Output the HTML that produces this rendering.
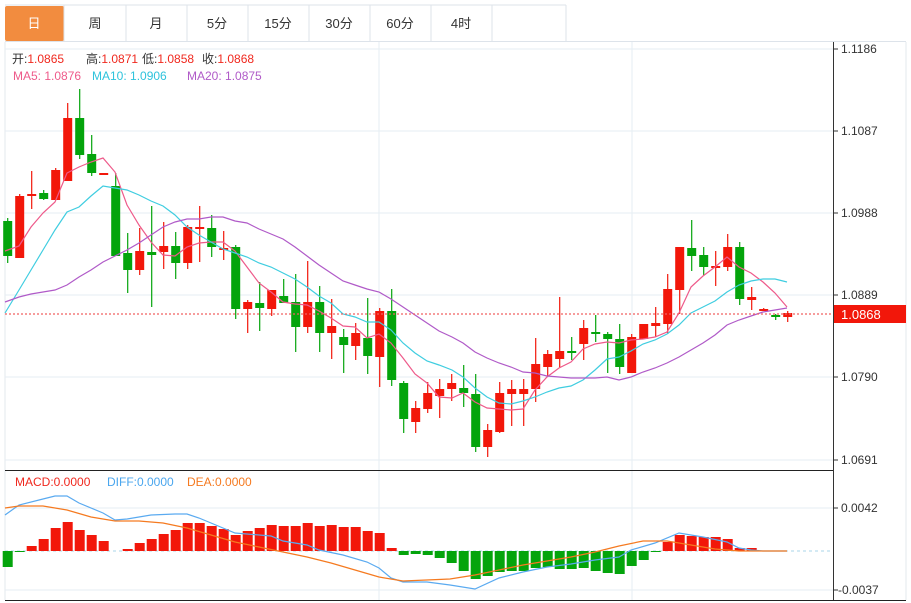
<!DOCTYPE html>
<html><head><meta charset="utf-8"><style>
body{margin:0;background:#fff;width:911px;height:603px;overflow:hidden;font-family:"Liberation Sans","Noto Sans CJK SC",sans-serif}
svg{position:absolute;left:0;top:0}
</style></head><body>
<svg id="s" width="911" height="603" xmlns="http://www.w3.org/2000/svg" font-family="Liberation Sans, Noto Sans CJK SC, sans-serif">
<rect x="0" y="0" width="911" height="603" fill="#fff"/>
<line x1="5" y1="5" x2="566" y2="5" stroke="#dde3ea"/>
<line x1="5" y1="41.5" x2="906" y2="41.5" stroke="#dde3ea"/>
<rect x="5" y="6" width="59" height="35" fill="#f28c3f" rx="2"/>
<g stroke="#dde3ea"><line x1="126" y1="5" x2="126" y2="41"/><line x1="187" y1="5" x2="187" y2="41"/><line x1="248" y1="5" x2="248" y2="41"/><line x1="309" y1="5" x2="309" y2="41"/><line x1="370" y1="5" x2="370" y2="41"/><line x1="431" y1="5" x2="431" y2="41"/><line x1="492" y1="5" x2="492" y2="41"/><line x1="566" y1="5" x2="566" y2="41"/><line x1="64" y1="5" x2="64" y2="41"/></g>
<g font-size="13" text-anchor="middle" fill="#333"><text x="34" y="28" fill="#fff">日</text><text x="95" y="28">周</text><text x="156" y="28">月</text><text x="217" y="28">5分</text><text x="278" y="28">15分</text><text x="339" y="28">30分</text><text x="400" y="28">60分</text><text x="461" y="28">4时</text></g>
<line x1="5" y1="42" x2="5" y2="600" stroke="#e3e8ee"/>
<line x1="906" y1="42" x2="906" y2="600" stroke="#e3e8ee"/>
<g stroke="#e6edf3"><line x1="5" y1="49" x2="833" y2="49"/><line x1="5" y1="131" x2="833" y2="131"/><line x1="5" y1="213" x2="833" y2="213"/><line x1="5" y1="295" x2="833" y2="295"/><line x1="5" y1="377" x2="833" y2="377"/><line x1="5" y1="460" x2="833" y2="460"/><line x1="5" y1="508" x2="833" y2="508"/><line x1="5" y1="590" x2="833" y2="590"/><line x1="379" y1="42" x2="379" y2="600"/><line x1="632" y1="42" x2="632" y2="600"/></g>
<line x1="5" y1="470.5" x2="833" y2="470.5" stroke="#222"/>
<line x1="5" y1="600.5" x2="906" y2="600.5" stroke="#222"/>
<line x1="833.5" y1="42" x2="833.5" y2="600" stroke="#333"/>
<g stroke="#333"><line x1="833" y1="49" x2="838" y2="49"/><line x1="833" y1="131" x2="838" y2="131"/><line x1="833" y1="213" x2="838" y2="213"/><line x1="833" y1="295" x2="838" y2="295"/><line x1="833" y1="377" x2="838" y2="377"/><line x1="833" y1="460" x2="838" y2="460"/><line x1="833" y1="508" x2="838" y2="508"/><line x1="833" y1="590" x2="838" y2="590"/></g>
<g font-size="12" fill="#333"><text x="841" y="53">1.1186</text><text x="841" y="135">1.1087</text><text x="841" y="217">1.0988</text><text x="841" y="299">1.0889</text><text x="841" y="381">1.0790</text><text x="841" y="464">1.0691</text><text x="841" y="512">0.0042</text><text x="838" y="594">-0.0037</text></g>
<g font-size="12">
<text x="12" y="63" fill="#333">开:<tspan fill="#f0281e">1.0865</tspan></text>
<text x="86" y="63" fill="#333">高:<tspan fill="#f0281e">1.0871</tspan></text>
<text x="142" y="63" fill="#333">低:<tspan fill="#f0281e">1.0858</tspan></text>
<text x="202" y="63" fill="#333">收:<tspan fill="#f0281e">1.0868</tspan></text>
<text x="13" y="80" fill="#ee5a8a">MA5: 1.0876</text>
<text x="92" y="80" fill="#2ec3dc">MA10: 1.0906</text>
<text x="187" y="80" fill="#b05ac8">MA20: 1.0875</text>
<text x="15" y="486" fill="#f0281e">MACD:0.0000</text>
<text x="107" y="486" fill="#4aa6ee">DIFF:0.0000</text>
<text x="187" y="486" fill="#f57a20">DEA:0.0000</text>
</g>
<g id="c"></g>
</svg>
<script>
var c=document.getElementById('c'),h='';
var R='#f2170a',G='#04a40c';
var K=[['g',221,256,218,263],['r',196,258,194,258],['r',194,196,171,209],['g',193,199,190,200],['r',170,200,168,200],['r',118,181,103,181],['g',118,155,89,159],['g',154,173,135,176],['r',173,175,173,175],['g',186,256,173,256],
['g',253,270,233,293],['r',251,270,228,275],['g',252,255,206,307],['r',246,252,222,269],['g',246,263,232,279],['r',227,263,225,269],['r',227,229,206,262],['g',228,247,215,257],['r',248,250,231,260],['g',247,309,245,319],
['r',302,309,300,333],['g',303,308,282,331],['r',290,309,290,316],['g',296,303,279,303],['g',302,327,274,352],['r',302,327,261,333],['g',302,333,286,352],['r',326,333,299,359],['g',337,345,329,373],['r',333,346,323,360],
['g',338,356,298,374],['r',311,357,308,387],['g',311,380,289,386],['g',383,419,381,433],['r',408,422,401,433],['r',393,409,382,413],['r',389,396,379,418],['r',383,389,374,401],['g',388,393,365,407],['g',394,447,374,452],
['r',430,447,424,457],['r',393,432,382,433],['r',389,394,380,426],['r',389,394,379,426],['r',364,389,338,402],['r',354,367,350,376],['r',351,359,297,368],['g',351,353,337,360],['r',328,344,320,360],['g',332,334,315,342],
['g',334,339,332,373],['g',339,367,324,374],['r',337,373,334,373],['r',324,339,324,339],['r',323,326,307,337],['r',289,324,274,334],['r',247,290,247,314],['g',248,256,220,271],['g',255,267,247,275],['r',266,268,251,286],
['r',247,267,234,271],['g',247,299,242,305],['r',297,300,287,310],['r',309,311,308,311],['g',315,317,314,320],['r',313,317,311,322]];
function X(i){return 7.7+12*i}
K.forEach(function(k,i){var x=X(i),col=k[0]=='r'?R:G;
h+='<line x1="'+x+'" y1="'+k[3]+'" x2="'+x+'" y2="'+k[4]+'" stroke="'+col+'" stroke-width="1.2"/>';
var hh=Math.max(k[2]-k[1],1.5);h+='<rect x="'+(x-4.5)+'" y="'+k[1]+'" width="9" height="'+hh+'" fill="'+col+'"/>';});
function pl(p,col,w){h+='<polyline fill="none" stroke="'+col+'" stroke-width="'+(w||1.2)+'" points="'+p+'"/>';}
pl('5,251 19,246 31,227 43,213 55,202 67,173 79,167 91,162 103,158 115,172 127,205 139,225 151,242 163,255 175,256 187,247 199,243 211,242 223,242 235,251 247,267 259,283 271,292 283,302 295,304 307,305 319,311 331,318 343,326 355,327 367,338 379,334 391,343 403,358 415,374 427,383 439,397 452,398 463,393 475,402 487,408 499,409 511,410 523,409 535,390 547,377 559,368 571,362 583,349 595,344 607,342 619,343 631,340 643,339 655,337 667,332 679,313 691,287 703,276 715,267 727,257 739,267 751,273 763,282 775,293 787,307','#ee5a8a');
pl('5,313 19,290 31,270 43,250 55,230 67,212 79,207 91,196 103,186 115,188 127,190 139,195 151,201 163,206 175,215 187,227 199,235 211,242 223,249 235,253 247,257 259,263 271,267 283,273 295,279 307,287 319,296 331,303 343,314 355,317 367,322 379,322 391,330 403,343 415,353 427,361 439,365 452,370 463,377 475,388 487,397 499,403 511,404 523,401 535,397 547,392 559,388 571,386 583,380 595,370 607,359 619,357 631,351 643,344 655,340 667,334 679,325 691,313 703,307 715,301 727,292 739,285 751,281 763,279 775,279 787,282','#3fcde0');
pl('5,302 19,297 31,294 43,292 55,290 67,285 79,277 91,270 103,262 115,256 127,250 139,243 151,235 163,227 175,222 187,219 199,219 211,217 223,217 235,221 247,223 259,229 271,234 283,239 295,247 307,256 319,265 331,273 343,281 355,285 367,289 379,292 391,299 403,307 415,315 427,323 439,331 452,337 463,343 475,352 487,358 499,363 511,367 523,372 535,373 547,376 559,377 571,378 583,378 595,378 607,377 619,380 631,377 643,372 655,368 667,363 679,357 691,350 703,343 715,335 727,325 739,320 751,316 763,312 775,310 787,308','#b05ac8');
h+='<line x1="5" y1="314" x2="833" y2="314" stroke="#f06060" stroke-width="1.3" stroke-dasharray="2,2"/>';
h+='<rect x="834" y="305" width="72" height="18" fill="#f2170a"/><text x="841" y="319" font-size="13" fill="#fff">1.0868</text>';
h+='<line x1="5" y1="551" x2="833" y2="551" stroke="#a8d4ea" stroke-dasharray="3,3"/>';
var M=[567,552,546,539,528,522,530,535,541,551,549,543,539,534,530,523,523,526,529,535,531,528,525,526,526,523,526,525,527,527,531,533,548,555,554,555,558,563,571,579,576,572,571,571,568,567,569,569,568,571,573,574,566,560,552,542,535,536,537,537,539,548,548,551,551,551];
M.forEach(function(y,i){if(Math.abs(y-551)<1)return;var x=X(i);var t=Math.min(y,551),hh=Math.abs(y-551);
h+='<rect x="'+(x-5)+'" y="'+t+'" width="10" height="'+hh+'" fill="'+(y<551?R:G)+'"/>';});
pl('5,515 19,505 43,499 55,496 67,496 79,503 103,513 115,520 127,519 139,517 151,515 175,514 187,514 199,518 211,523 235,533 271,536 283,541 307,545 319,550 343,555 367,562 379,568 391,578 403,582 427,582 450,585 475,589 499,578 523,572 547,567 571,564 595,560 619,557 631,550 655,543 679,533 703,537 727,542 739,548 751,550 763,551 787,551','#5aaaf0');
pl('5,508 19,506 43,506 55,508 67,510 91,517 115,521 139,521 163,523 187,528 211,535 235,542 259,547 283,552 307,557 331,563 355,570 379,577 403,581 450,579 475,575 499,570 523,565 547,561 571,557 595,552 619,546 643,541 667,541 691,545 715,549 739,551 787,551','#f57a20');
c.innerHTML=h;
</script>
</body></html>
